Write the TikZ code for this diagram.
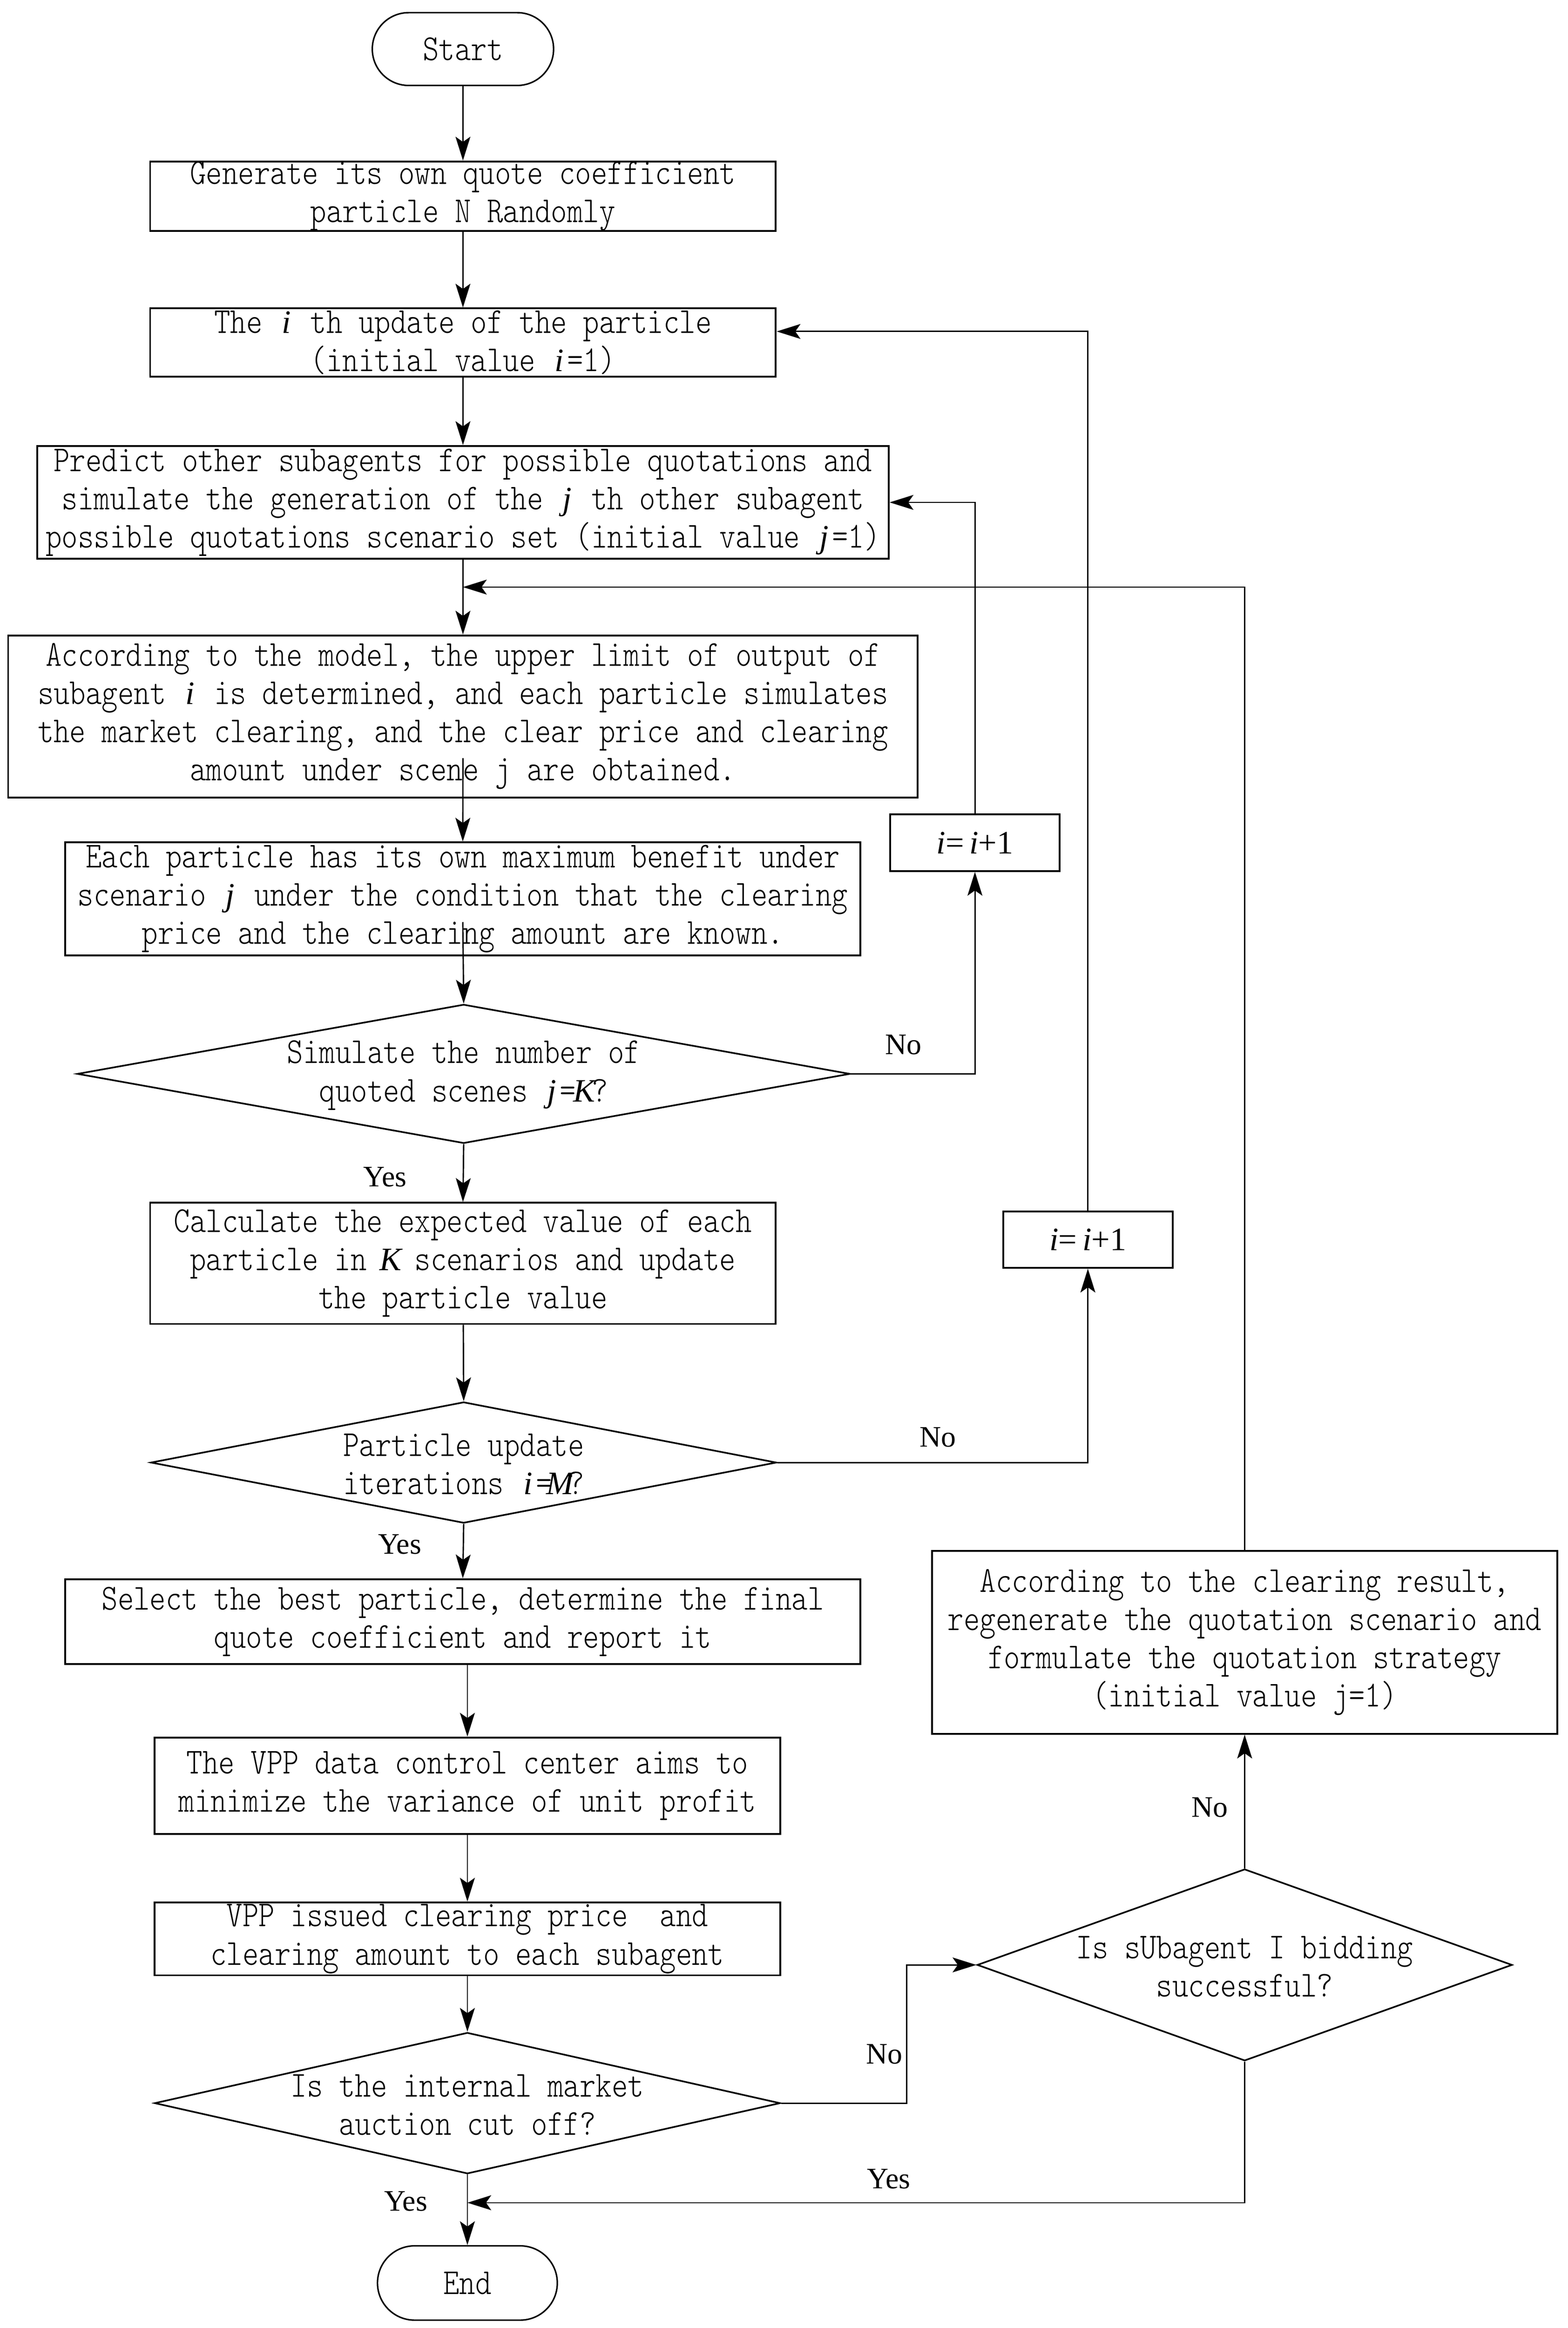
\documentclass[tikz,border=0pt]{standalone}
\usepackage{fontspec}
\setmonofont{lmmonolt10-regular}[Extension=.otf, FakeStretch=0.836]
\newfontfamily\tnr{Liberation Serif}
\usetikzlibrary{shapes.geometric,shapes.misc,arrows.meta}
\newcommand\boxfont{\ttfamily\fontsize{24.6}{25.7}\selectfont}
\newcommand\cv[1]{\makebox[10.8pt]{\tnr\fontsize{22}{25.7}\selectfont\itshape #1}}
\tikzset{
  proc/.style={draw, line width=1.2pt, align=center, inner sep=0pt, font=\boxfont},
  term/.style={rounded rectangle, draw, line width=1pt, inner sep=0pt, font=\boxfont},
  dec/.style={diamond, draw, line width=1.1pt, inner sep=0pt},
  dtext/.style={align=center, inner sep=0pt, font=\boxfont},
  incbox/.style={draw, line width=1.2pt, inner sep=0pt, font=\tnr\fontsize{22}{26}\selectfont},
  arr/.style={line width=0.9pt, -{Stealth[length=16pt,width=10pt,inset=3.5pt]}},
  lbl/.style={inner sep=0pt, font=\tnr\fontsize{20}{24}\selectfont}
}
\begin{document}
\begin{tikzpicture}[x=1pt,y=-1pt]
\fill[white] (0,0) rectangle (1055,1566.3);
\useasboundingbox (0,0) rectangle (1055,1566.3);

\node[term, minimum width=122pt, minimum height=49pt] (start) at (311.5,33) {Start};
\node[proc, minimum width=421pt, minimum height=46pt] (b1) at (311.5,132)
  {Generate its own quote coefficient\\particle N Randomly};
\node[proc, minimum width=421pt, minimum height=46pt] (b2) at (311.5,230.5)
  {The \cv{i} th update of the particle\\(initial value \cv{i}=1)};
\node[proc, minimum width=573pt, minimum height=76pt] (b3) at (311.5,338)
  {Predict other subagents for possible quotations and\\simulate the generation of the \cv{j} th other subagent\\possible quotations scenario set (initial value \cv{j}=1)};
\node[proc, minimum width=612pt, minimum height=109pt] (b4) at (311.5,482)
  {According to the model, the upper limit of output of\\subagent \cv{i} is determined, and each particle simulates\\the market clearing, and the clear price and clearing\\amount under scene j are obtained.};
\node[proc, minimum width=535pt, minimum height=76pt] (b5) at (311.4,604.8)
  {Each particle has its own maximum benefit under\\scenario \cv{j} under the condition that the clearing\\price and the clearing amount are known.};
\node[dec, minimum width=520pt, minimum height=93.5pt] (d1) at (312,722.5) {};
\node[dtext] at ([yshift=-1pt]d1.center) {Simulate the number of\\quoted scenes \cv{j}=\cv{K}?};
\node[proc, minimum width=421pt, minimum height=81.5pt] (b6) at (311.5,850)
  {Calculate the expected value of each\\particle in \cv{K} scenarios and update\\the particle value};
\node[dec, minimum width=421pt, minimum height=81.5pt] (d2) at (312,984) {};
\node[dtext] at ([yshift=-1pt]d2.center) {Particle update\\iterations \cv{i}=\cv{M}?};
\node[proc, minimum width=535pt, minimum height=57pt] (b7) at (311.4,1091)
  {Select the best particle, determine the final\\quote coefficient and report it};
\node[proc, minimum width=421pt, minimum height=65pt] (b8) at (314.5,1201.5)
  {The VPP data control center aims to\\minimize the variance of unit profit};
\node[proc, minimum width=421pt, minimum height=49pt] (b9) at (314.5,1304.5)
  {VPP issued clearing price~~and\\clearing amount to each subagent};
\node[dec, minimum width=421pt, minimum height=95pt] (d3) at (314.5,1415) {};
\node[dtext] at ([yshift=-1pt]d3.center) {Is the internal market\\auction cut off?};
\node[term, minimum width=121pt, minimum height=50pt] (end) at (314.5,1536) {End};

\node[incbox, minimum width=114pt, minimum height=38pt] (p1) at (656,567) {\textit{i}=\,\textit{i}+1};
\node[incbox, minimum width=114pt, minimum height=38pt] (p2) at (732,834) {\textit{i}=\,\textit{i}+1};
\node[proc, minimum width=420.5pt, minimum height=123pt] (b10) at (837.5,1105)
  {According to the clearing result,\\regenerate the quotation scenario and\\formulate the quotation strategy\\(initial value j=1)};
\node[dec, minimum width=360pt, minimum height=129pt] (d4) at (837.5,1322) {};
\node[dtext] at ([yshift=-1pt]d4.center) {Is sUbagent I bidding\\successful?};

\coordinate (j0) at (311.5,395);
\coordinate (j1) at (314.5,1482);
\coordinate (k3) at (610,1322);

\draw[arr] (start) -- (b1);
\draw[arr] (b1) -- (b2);
\draw[arr] (b2) -- (b3);
\draw[arr] (b3) -- (b4);
\draw[arr] ([yshift=27pt]b4.south) -- (b5.north);
\draw[arr] ([yshift=23pt]b5.south) -- (d1.north);
\draw[arr] (d1.east) -| (p1.south);
\draw[arr] (p1.north) |- (b3.east);
\draw[arr] (d1.south) -- (b6.north);
\draw[arr] (b6) -- (d2.north);
\draw[arr] (d2.east) -| (p2.south);
\draw[arr] (p2.north) |- ([yshift=7.5pt]b2.east);
\draw[arr] (d2.south) -- (b7.north);
\draw[arr] (b8.north |- b7.south) -- (b8.north);
\draw[arr] (b8) -- (b9);
\draw[arr] (b9) -- (d3.north);
\draw[arr] (d3.east) -| (k3) -- (d4.west);
\draw[arr] (d4.north) -- (b10.south);
\draw[arr] (d4.south) |- (j1);
\draw[arr] (d3.south) -- (end.north);
\draw[arr] (b10.north) |- (j0);

\node[lbl] (n1) at (608,703) {No};
\node[lbl] (y1) at (259,792) {Yes};
\node[lbl] (n2) at (631,967) {No};
\node[lbl] (y2) at (269,1039) {Yes};
\node[lbl] (n3) at (814,1216) {No};
\node[lbl] (n4) at (595,1382) {No};
\node[lbl] (y3) at (598,1466) {Yes};
\node[lbl] (y4) at (273,1481) {Yes};
\end{tikzpicture}
\end{document}
